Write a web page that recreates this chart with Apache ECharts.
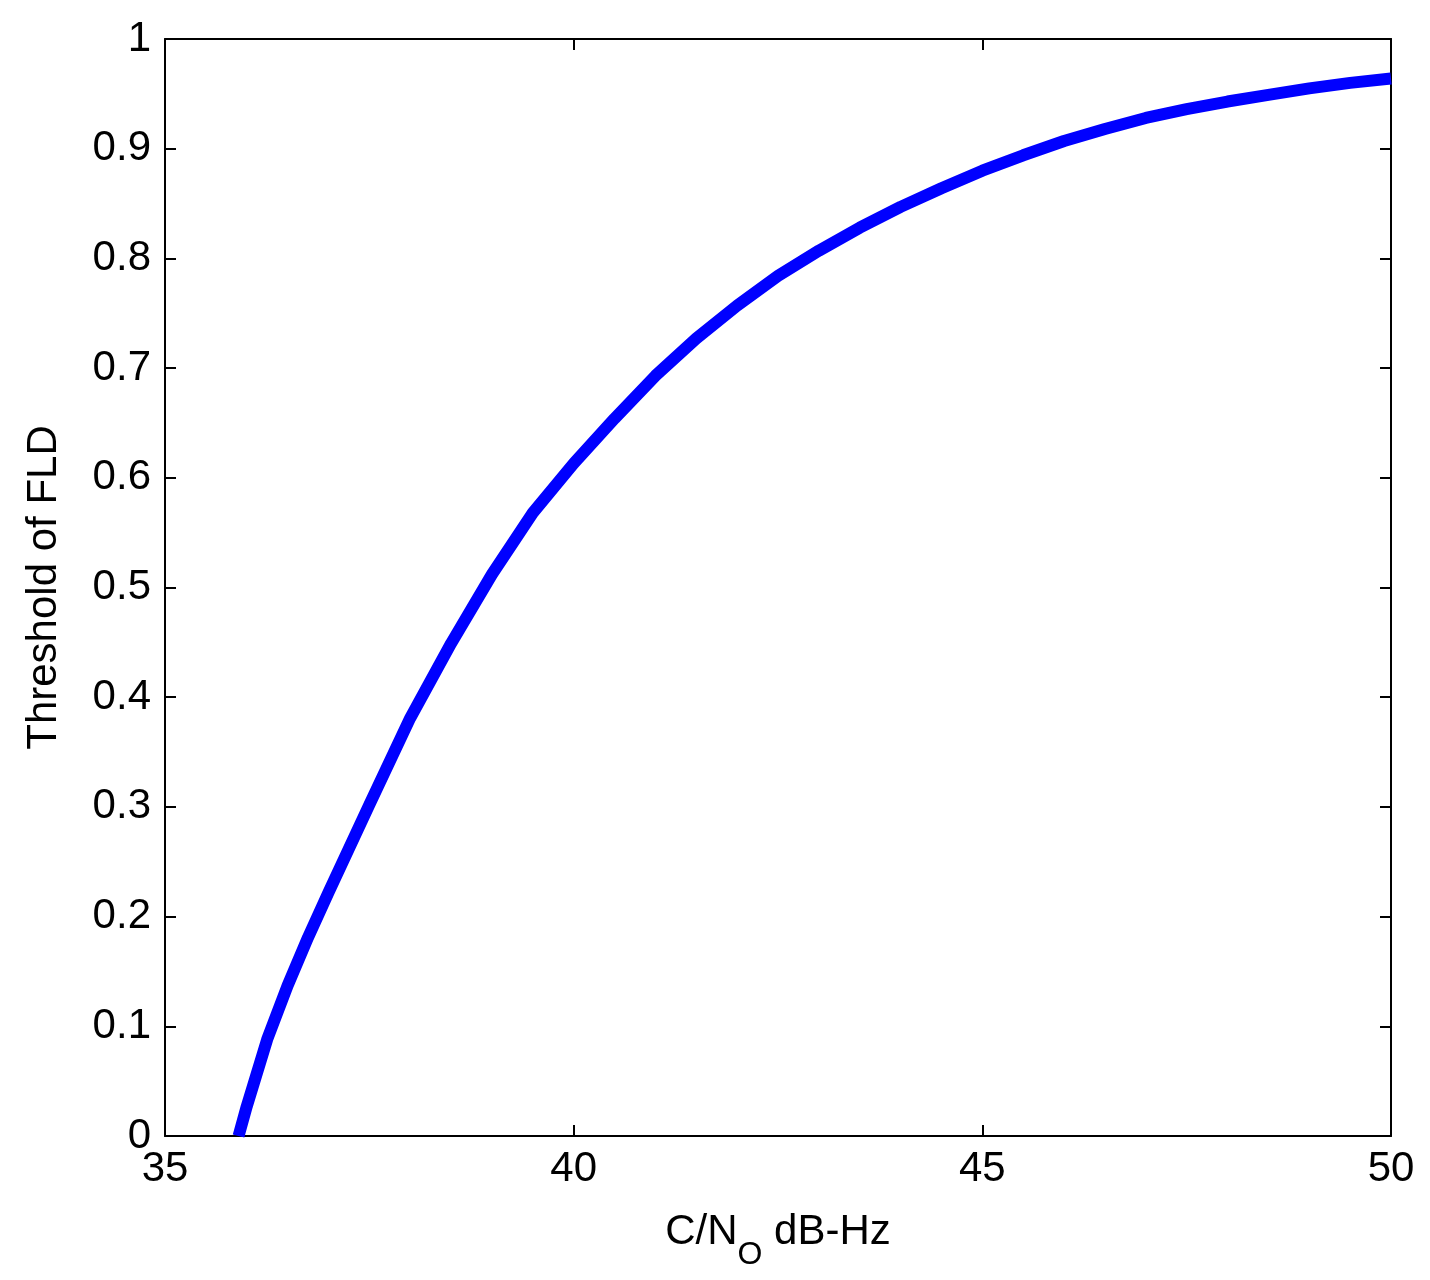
<!DOCTYPE html>
<html>
<head>
<meta charset="utf-8">
<script src="https://cdn.jsdelivr.net/npm/echarts@6/dist/echarts.min.js"></script>
<style>
html,body{margin:0;padding:0;background:#fff;}
#chart{width:1430px;height:1280px;}
</style>
</head>
<body>
<div id="chart"></div>
<script>
// C/N0 (dB-Hz) values
const cn0 = [35.9, 36.0, 36.25, 36.5, 36.75, 37.0, 37.5, 38.0, 38.5, 39.0, 39.5, 40.0, 40.5, 41.0, 41.5, 42.0, 42.5, 43.0, 43.5, 44.0, 44.5, 45.0, 45.5, 46.0, 46.5, 47.0, 47.5, 48.0, 48.5, 49.0, 49.5, 50.0];
// Threshold of FLD
const threshold = [0.0, 0.027, 0.088, 0.137, 0.181, 0.222, 0.302, 0.381, 0.449, 0.512, 0.568, 0.613, 0.654, 0.693, 0.727, 0.757, 0.784, 0.807, 0.828, 0.847, 0.864, 0.880, 0.894, 0.907, 0.918, 0.928, 0.936, 0.943, 0.949, 0.955, 0.960, 0.964];
const xTicks = [35, 40, 45, 50];
const yTicks = [0, 0.1, 0.2, 0.3, 0.4, 0.5, 0.6, 0.7, 0.8, 0.9, 1];

const FONT = 'Liberation Sans, Arial, sans-serif';
const FS = 42;
const lineStyle = {color: '#000', width: 2};

const chart = echarts.init(document.getElementById('chart'), null, {renderer: 'canvas'});
const data = cn0.map((x, i) => [x, threshold[i]]);

const baseX = {
  type: 'value', min: xTicks[0], max: xTicks[xTicks.length - 1], interval: 5,
  splitLine: {show: false},
  axisLine: {show: true, onZero: false, lineStyle: lineStyle},
  axisTick: {show: true, inside: true, length: 11, lineStyle: lineStyle}
};
const baseY = {
  type: 'value', min: yTicks[0], max: yTicks[yTicks.length - 1], interval: 0.1,
  splitLine: {show: false},
  axisLine: {show: true, onZero: false, lineStyle: lineStyle},
  axisTick: {show: true, inside: true, length: 11, lineStyle: lineStyle}
};

chart.setOption({
  backgroundColor: '#fff',
  animation: false,
  grid: {left: 165, right: 39, top: 39, bottom: 144, containLabel: false},
  xAxis: [
    Object.assign({}, baseX, {
      position: 'bottom',
      axisLabel: {show: true, fontFamily: FONT, fontSize: FS, color: '#000', margin: 12},
      name: '{a|C/N}{sub|O}{a| dB-Hz}',
      nameLocation: 'middle',
      nameGap: 30,
      nameTextStyle: {
        fontFamily: FONT, color: '#000',
        rich: {
          a: {fontFamily: FONT, fontSize: FS, color: '#000', lineHeight: 48},
          sub: {fontFamily: FONT, fontSize: 32, color: '#000', lineHeight: 38, padding: [44, 0, 0, 0]}
        }
      }
    }),
    Object.assign({}, baseX, {position: 'top', axisLabel: {show: false}})
  ],
  yAxis: [
    Object.assign({}, baseY, {
      position: 'left',
      axisLabel: {show: true, fontFamily: FONT, fontSize: FS, color: '#000', margin: 14},
      name: 'Threshold of FLD',
      nameLocation: 'middle',
      nameRotate: 90,
      nameGap: 100,
      nameTextStyle: {fontFamily: FONT, fontSize: FS, color: '#000'}
    }),
    Object.assign({}, baseY, {position: 'right', axisLabel: {show: false}})
  ],
  series: [{
    type: 'line',
    data: data,
    xAxisIndex: 0,
    yAxisIndex: 0,
    showSymbol: false,
    smooth: false,
    lineStyle: {color: '#0000ff', width: 12, join: 'round', cap: 'butt'},
    clip: true
  }]
});
</script>
</body>
</html>
